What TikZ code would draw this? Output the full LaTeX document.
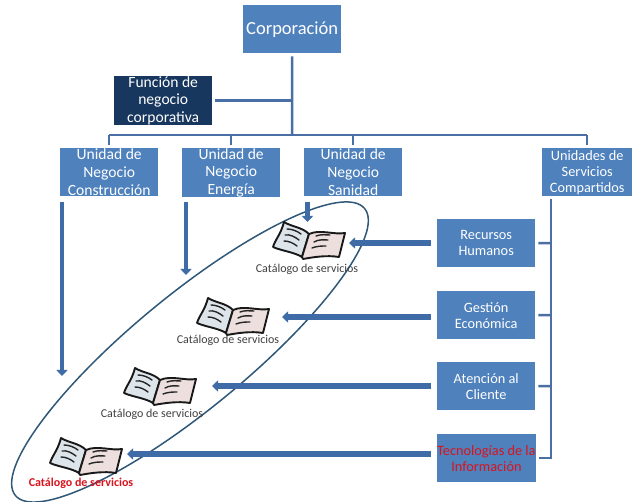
\documentclass[tikz,border=0pt]{standalone}
\usepackage{fontspec}
\setmainfont{Carlito}
\usetikzlibrary{arrows.meta}
\definecolor{boxblue}{HTML}{4F81BD}
\definecolor{boxdark}{HTML}{17375E}
\definecolor{linkblue}{HTML}{4A6FA5}
\definecolor{arrowblue}{HTML}{3F6CA6}
\definecolor{ringblue}{HTML}{2F5878}
\definecolor{pageL}{HTML}{DDE4EA}
\definecolor{pageR}{HTML}{EEDFDF}
\definecolor{redtext}{HTML}{D8141E}
\tikzset{
  x=1pt,y=-1pt,
  unitbox/.style={draw=none,fill=boxblue,text=white,minimum width=98pt,minimum height=48pt,inner sep=0pt,align=center,font=\fontsize{15.6}{17.7}\selectfont,anchor=north west},
  smallbox/.style={unitbox,font=\fontsize{14.3}{16}\selectfont},
  conn/.style={draw=linkblue,line width=2.5pt},
  blockarrow/.style={draw=arrowblue,line width=4pt,-{Triangle[length=6pt,width=11pt]}},
  wideblock/.style={blockarrow,line width=5.6pt},
  cat/.style={font=\fontsize{12}{14}\selectfont,text=black!75,inner sep=0pt},
  bookedge/.style={draw=black!90,line width=1.9pt,line join=round},
  bookink/.style={draw=black!85,line width=1.4pt,line cap=round},
  pics/openbook/.style={code={
    \path[bookedge,fill=pageL] (12,0) .. controls (20,5) and (30,5) .. (37,12) -- (30,35) .. controls (22,30) and (10,29) .. (1,25) .. controls (3,18) and (9,12) .. cycle;
    \path[bookedge,fill=pageR] (37,12) .. controls (48,7) and (62,13) .. (73,11) -- (67,35) .. controls (55,33) and (42,35) .. (31,37) -- (30,35) -- cycle;
    \draw[bookink] (15,7) .. controls (20,7) and (25,9) .. (29,12);
    \draw[bookink] (13,13) .. controls (18,12) and (23,15) .. (27,18);
    \draw[bookink] (12,19) .. controls (17,19) and (21,21) .. (25,24);
    \draw[bookink] (44,14) .. controls (49,12) and (54,13) .. (58,13);
    \draw[bookink] (42,20) .. controls (47,17) and (52,18) .. (56,18);
    \draw[bookink] (40,26) .. controls (45,24) and (50,24) .. (54,24);
  }}
}
\begin{document}
\begin{tikzpicture}
\useasboundingbox (0,0) rectangle (632,502);
\fill[white] (0,0) rectangle (632,502);

% boxes
\node[unitbox,font=\fontsize{18.5}{22}\selectfont] (corp) at (243,5) {Corporación};
\node[unitbox,fill=boxdark] (func) at (114,76) {Función de\\negocio\\corporativa};
\node[unitbox] (uc) at (60,148) {Unidad de\\Negocio\\Construcción};
\node[unitbox] (ue) at (182,148) {Unidad de\\Negocio\\Energía};
\node[unitbox] (us) at (304,148) {Unidad de\\Negocio\\Sanidad};
\node[smallbox,minimum width=90pt] (usc) at (542,148) {Unidades de\\Servicios\\Compartidos};
\node[smallbox] (rh) at (437,219) {Recursos\\Humanos};
\node[smallbox] (ge) at (437,291) {Gestión\\Económica};
\node[smallbox] (ac) at (437,362) {Atención al\\Cliente};
\node[smallbox,text=redtext] (ti) at (437,434) {Tecnologías de la\\Información};

% junctions
\coordinate (jf) at (corp.south |- func.east);
\coordinate (jb) at (292,135);
\coordinate (buc) at (uc.north |- jb);
\coordinate (bue) at (ue.north |- jb);
\coordinate (bus) at (us.north |- jb);
\coordinate (busc) at (usc.north |- jb);
\coordinate (sbar) at (551,196);
\coordinate (srh) at (551,243);
\coordinate (sge) at (551,315);
\coordinate (sac) at (551,386);
\coordinate (sti) at (551,458);

% hierarchy connectors
\draw[conn,shorten <=3pt] (corp.south) -- (jb);
\draw[conn,shorten <=3pt] (func.east) -- (jf);
\draw[conn] (buc) -- (busc);
\draw[conn,shorten >=3pt] (buc) -- (uc.north);
\draw[conn,shorten >=3pt] (bue) -- (ue.north);
\draw[conn,shorten >=3pt] (bus) -- (us.north);
\draw[conn,shorten >=3pt] (busc) -- (usc.north);
\draw[conn,shorten <=3pt,line join=miter] (sbar) -- (sti) -- ([xshift=3pt]ti.east |- sti);
\draw[conn,shorten >=3pt] (srh) -- (rh.east);
\draw[conn,shorten >=3pt] (sge) -- (ge.east);
\draw[conn,shorten >=3pt] (sac) -- (ac.east);

% ring
\coordinate (ringc) at (190,352);
\draw[ringblue,line width=1.5pt,rotate around={39.4:(ringc)}] (ringc) ellipse [x radius=226pt,y radius=57pt];

% books and labels
\pic at (272,222) {openbook};
\pic at (196,298) {openbook};
\pic at (123,368) {openbook};
\pic at (49,438) {openbook};
\node[cat] (c1) at (307,269) {Catálogo de servicios};
\node[cat] (c2) at (228,340) {Catálogo de servicios};
\node[cat] (c3) at (152,414) {Catálogo de servicios};
\node[cat,text=redtext,font=\fontsize{12}{14}\selectfont\bfseries] (c4) at (81,483) {Catálogo de servicios};

% arrows
\coordinate (a1s) at (62,202); \coordinate (a1e) at (62,376);
\coordinate (a2s) at (186,202); \coordinate (a2e) at (186,275);
\coordinate (a3s) at (307.5,202); \coordinate (a3e) at (307.5,222);
\coordinate (b1) at (349,243);
\coordinate (b2) at (282,317);
\coordinate (b3) at (212,386);
\coordinate (b4) at (127,454);
\draw[blockarrow] (a1s) -- (a1e);
\draw[blockarrow] (a2s) -- (a2e);
\draw[blockarrow,line width=4.6pt] (a3s) -- (a3e);
\draw[wideblock] ([xshift=-6pt]rh.west |- b1) -- (b1);
\draw[wideblock] ([xshift=-6pt]ge.west |- b2) -- (b2);
\draw[wideblock] ([xshift=-6pt]ac.west |- b3) -- (b3);
\draw[wideblock] ([xshift=-6pt]ti.west |- b4) -- (b4);
\end{tikzpicture}
\end{document}
